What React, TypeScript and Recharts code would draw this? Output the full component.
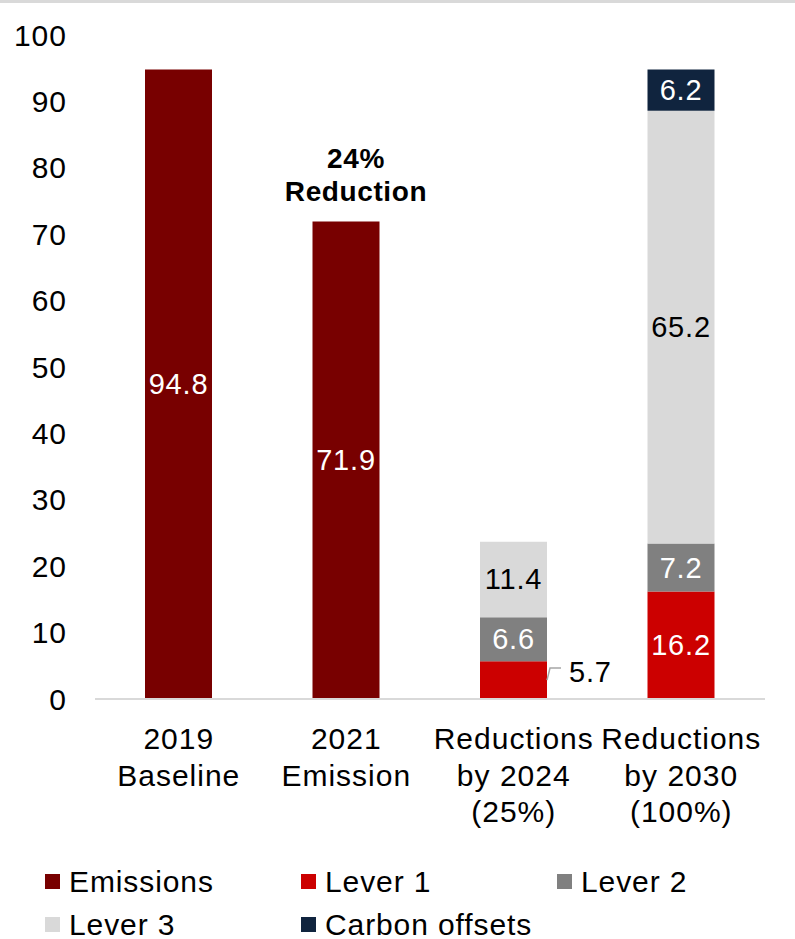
import { Bar, BarChart, LabelList, Legend, XAxis, YAxis } from "recharts";

const categories = [
  "2019\nBaseline",
  "2021\nEmission",
  "Reductions\nby 2024\n(25%)",
  "Reductions\nby 2030\n(100%)",
];
const emissions = [94.8, 71.9, 0, 0];
const lever1 = [0, 0, 5.7, 16.2];
const lever2 = [0, 0, 6.6, 7.2];
const lever3 = [0, 0, 11.4, 65.2];
const carbonOffsets = [0, 0, 0, 6.2];
const annotations = ["", "24%\nReduction", "", ""];
const yTicks = [0, 10, 20, 30, 40, 50, 60, 70, 80, 90, 100];

const series = [
  { key: "emissions", name: "Emissions", color: "#780000", text: "#fff" },
  { key: "lever1", name: "Lever 1", color: "#cc0000", text: "#fff" },
  { key: "lever2", name: "Lever 2", color: "#808080", text: "#fff" },
  { key: "lever3", name: "Lever 3", color: "#d9d9d9", text: "#000" },
  { key: "carbon", name: "Carbon offsets", color: "#10243e", text: "#fff" },
];

const data = categories.map((name, i) => ({
  name,
  emissions: emissions[i],
  lever1: lever1[i],
  lever2: lever2[i],
  lever3: lever3[i],
  carbon: carbonOffsets[i],
  note: annotations[i],
}));

const FONT = "'Liberation Sans', Arial, sans-serif";

function CategoryTick({ x, y, payload }: any) {
  const lines = String(payload.value).split("\n");
  return (
    <text
      x={x}
      y={y + 50}
      textAnchor="middle"
      fontSize={30}
      fontFamily={FONT}
      fill="#000"
      letterSpacing={1}
    >
      {lines.map((l, i) => (
        <tspan key={i} x={x} dy={i === 0 ? 0 : 36.7}>
          {l}
        </tspan>
      ))}
    </text>
  );
}

function makeLabel(textColor: string, withNote = false) {
  return (props: any) => {
    const { x, y, width, height, value, index } = props;
    if (!value) return null;
    const cx = x + width / 2;
    const note = withNote ? data[index].note : "";
    const out: any[] = [];
    if (height < 39) {
      // small segment: label sits outside with a leader line
      const my = y + height / 2;
      out.push(
        <polyline
          key="lead"
          points={`${x + width},${my} ${x + width + 3},${my - 12} ${x + width + 14},${my - 12}`}
          fill="none"
          stroke="#a6a6a6"
          strokeWidth={1.5}
        />,
        <text
          key="v"
          x={x + width + 22}
          y={my + 2}
          fontSize={29}
          fontFamily={FONT}
          fill="#000"
          letterSpacing={0.8}
        >
          {value}
        </text>
      );
    } else {
      out.push(
        <text
          key="v"
          x={cx}
          y={y + height / 2 + 10}
          textAnchor="middle"
          fontSize={29}
          fontFamily={FONT}
          fill={textColor}
          letterSpacing={0.8}
        >
          {value}
        </text>
      );
    }
    if (note) {
      const lines = note.split("\n");
      out.push(
        <text
          key="n"
          x={cx + 10}
          y={y - 21 - (lines.length - 1) * 33}
          textAnchor="middle"
          fontSize={28}
          fontWeight="bold"
          fontFamily={FONT}
          fill="#000"
          letterSpacing={0.6}
        >
          {lines.map((l, i) => (
            <tspan key={i} x={cx + 10} dy={i === 0 ? 0 : 33}>
              {l}
            </tspan>
          ))}
        </text>
      );
    }
    return <g>{out}</g>;
  };
}

function LegendBox() {
  return (
    <div
      style={{
        height: 80,
        paddingLeft: 45,
        display: "grid",
        gridTemplateColumns: "256px 256px 256px",
        gridAutoRows: "43px",
        paddingTop: 1,
        boxSizing: "border-box",
        fontFamily: FONT,
        fontSize: 30,
        letterSpacing: 0.9,
        color: "#000",
      }}
    >
      {series.map((s) => (
        <div key={s.key} style={{ display: "flex", alignItems: "center", whiteSpace: "nowrap" }}>
          <span
            style={{
              display: "inline-block",
              width: 15,
              height: 15,
              background: s.color,
              marginRight: 9,
            }}
          />
          {s.name}
        </div>
      ))}
    </div>
  );
}

export default function App() {
  return (
    <div
      style={{ position: "absolute", left: 0, top: 0, width: 795, height: 939, background: "#fff" }}
    >
      <div
        style={{ position: "absolute", left: 0, top: 0, width: 795, height: 3, background: "#d9d9d9" }}
      />
      <BarChart
        width={795}
        height={939}
        data={data}
        margin={{ top: 35, right: 30, left: 0, bottom: 0 }}
        barSize={67}
      >
        <XAxis
          dataKey="name"
          interval={0}
          height={160}
          tickSize={0}
          tickMargin={0}
          axisLine={{ stroke: "#d9d9d9", strokeWidth: 2 }}
          tickLine={false}
          tick={<CategoryTick />}
        />
        <YAxis
          width={95}
          domain={[0, 100]}
          ticks={yTicks}
          axisLine={false}
          tickLine={false}
          tickSize={0}
          tickMargin={28}
          tick={{ fontSize: 30, fill: "#000", fontFamily: FONT, letterSpacing: 1 }}
        />
        <Legend
          verticalAlign="bottom"
          wrapperStyle={{ left: 0, width: 795 }}
          content={() => <LegendBox />}
        />
        {series.map((s) => (
          <Bar
            key={s.key}
            dataKey={s.key}
            name={s.name}
            stackId="a"
            fill={s.color}
            isAnimationActive={false}
          >
            <LabelList dataKey={s.key} content={makeLabel(s.text, s.key === "emissions")} />
          </Bar>
        ))}
      </BarChart>
    </div>
  );
}
